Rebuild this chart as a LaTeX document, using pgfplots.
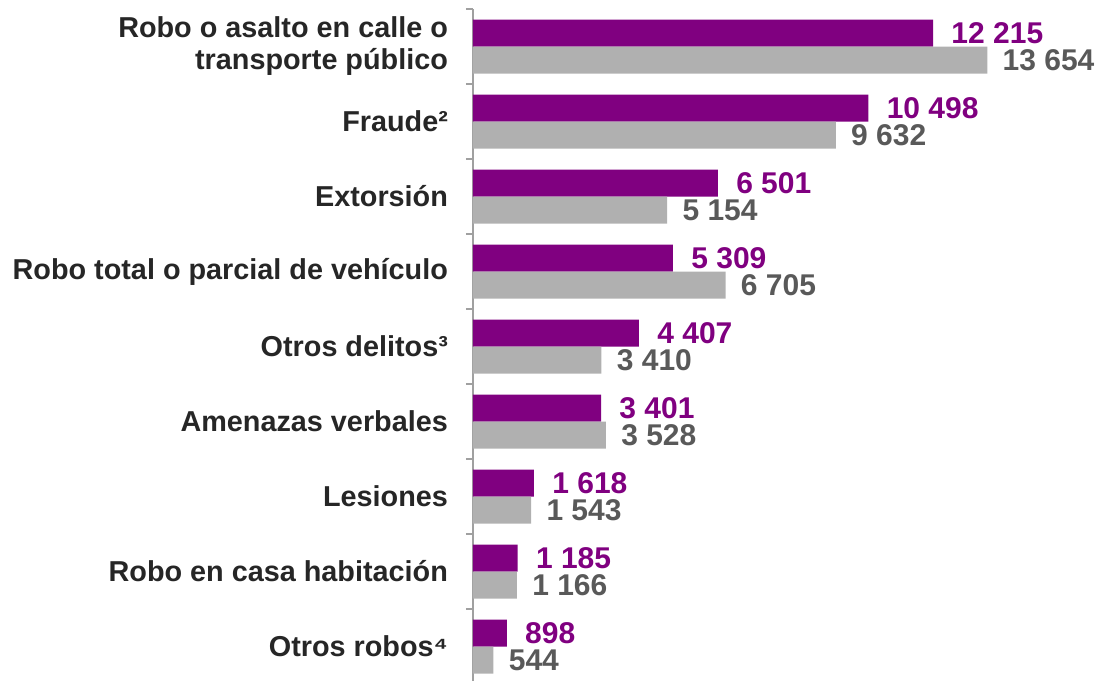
\documentclass[border=0pt]{standalone}
\usepackage{pgfplots}
\pgfplotsset{compat=1.18}
\usepackage{fontspec}
\setmainfont{Liberation Sans}
\definecolor{barpurple}{RGB}{128,0,128}
\definecolor{bargray}{RGB}{176,176,176}
\definecolor{valgray}{RGB}{89,89,89}
\definecolor{cattext}{RGB}{38,38,38}
\definecolor{axisgray}{RGB}{160,160,160}
\begin{document}
\begin{tikzpicture}
\begin{axis}[
  scale only axis,
  width=313pt, height=336pt,
  xbar, bar width=13.5pt,
  xmin=0, xmax=16620,
  ymin=-0.5, ymax=8.46,
  y dir=reverse,
  enlarge y limits=false,
  axis x line=none,
  axis y line*=left,
  y axis line style={axisgray, line width=1pt},
  ytick={0,...,8},
  yticklabels={{Robo o asalto en calle o\\transporte público},{Fraude²},{Extorsión},{Robo total o parcial de vehículo},{Otros delitos³},{Amenazas verbales},{Lesiones},{Robo en casa habitación},{Otros robos⁴}},
  yticklabel style={align=right, font=\fontsize{14.4}{16}\selectfont\bfseries, text=cattext, xshift=-9pt},
  minor ytick={-0.5,0.5,...,8.5},
  major tick length=0pt,
  minor tick length=3.5pt,
  tick align=outside,
  minor tick style={axisgray, line width=1pt},
  clip=false,
  nodes near coords,
  point meta=explicit symbolic,
  nodes near coords style={anchor=west, font=\fontsize{15}{18}\selectfont\bfseries, inner sep=0pt},
]
\addplot[fill=barpurple, draw=none, bar shift=6.75pt,
  nodes near coords style={text=barpurple, xshift=9pt}] coordinates {
  (12215,0) [12 215]
  (10498,1) [10 498]
  (6501,2) [6 501]
  (5309,3) [5 309]
  (4407,4) [4 407]
  (3401,5) [3 401]
  (1618,6) [1 618]
  (1185,7) [1 185]
  (898,8) [898]
};
\addplot[fill=bargray, draw=none, bar shift=-6.75pt,
  nodes near coords style={text=valgray, xshift=7.5pt}] coordinates {
  (13654,0) [13 654]
  (9632,1) [9 632]
  (5154,2) [5 154]
  (6705,3) [6 705]
  (3410,4) [3 410]
  (3528,5) [3 528]
  (1543,6) [1 543]
  (1166,7) [1 166]
  (544,8) [544]
};
\end{axis}
\pgfresetboundingbox
\path[use as bounding box] ([xshift=-236.5pt]current axis.south west) rectangle ([yshift=4.5pt]current axis.north east);
\end{tikzpicture}
\end{document}
